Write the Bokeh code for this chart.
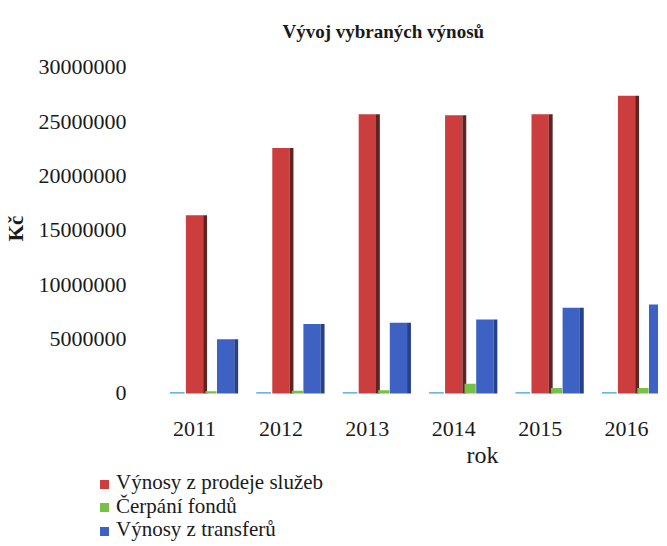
from bokeh.plotting import figure
from bokeh.layouts import column
from bokeh.models import (Range1d, FixedTicker, Title, ColumnDataSource, Div)
from bokeh.transform import dodge
from bokeh.embed import file_html
from bokeh.resources import INLINE

years = [2011, 2012, 2013, 2014, 2015, 2016]
year_labels = ["2011", "2012", "2013", "2014", "2015", "2016"]
prodej_sluzeb = [16400000, 22600000, 25700000, 25600000, 25700000, 27400000]
cerpani_fondu = [200000, 250000, 300000, 900000, 500000, 500000]
transfery = [5000000, 6400000, 6500000, 6800000, 7900000, 8200000]
ostatni = [120000, 120000, 120000, 120000, 120000, 120000]
y_ticks = [0, 5000000, 10000000, 15000000, 20000000, 25000000, 30000000]
y_tick_labels = ["0", "5000000", "10000000", "15000000", "20000000", "25000000", "30000000"]
series_names = ["Výnosy z prodeje služeb", "Čerpání fondů", "Výnosy z transferů"]

FONT = "Liberation Serif"
RED, RED_SIDE = "#cc3d3d", "#5e2424"
GREEN = "#78c048"
BLUE, BLUE_SIDE = "#3d62c4", "#27408a"
CYAN = "#3b9fd8"
series_colors = [RED, GREEN, BLUE]

p = figure(frame_width=509, frame_height=338, output_backend="svg", toolbar_location=None,
           x_range=Range1d(2010.479, 2016.37), y_range=Range1d(-370000, 30736000),
           min_border_left=142, min_border_right=0, min_border_top=59, min_border_bottom=40)
p.outline_line_color = None
p.xgrid.visible = False
p.ygrid.visible = False

src = ColumnDataSource(dict(year=years, prodej=prodej_sluzeb, fondy=cerpani_fondu,
                            transfery=transfery, ostatni=ostatni))

side = 0.045
p.vbar(x=dodge("year", -0.2, range=p.x_range), top="ostatni", width=0.17, source=src,
       fill_color=CYAN, line_color=None)
p.vbar(x=dodge("year", 0.0, range=p.x_range), top="prodej", width=0.2, source=src,
       fill_color=RED, line_color=None)
p.vbar(x=dodge("year", 0.1 + side / 2, range=p.x_range), top="prodej", width=side, source=src,
       fill_color=RED_SIDE, line_color=None)
p.vbar(x=dodge("year", 0.19, range=p.x_range), top="fondy", width=0.13, source=src,
       fill_color=GREEN, line_color=None)
p.vbar(x=dodge("year", 0.36, range=p.x_range), top="transfery", width=0.2, source=src,
       fill_color=BLUE, line_color=None)
p.vbar(x=dodge("year", 0.46 + side / 2, range=p.x_range), top="transfery", width=side, source=src,
       fill_color=BLUE_SIDE, line_color=None)

p.xaxis.ticker = FixedTicker(ticks=years)
p.xaxis.major_label_overrides = {y: l for y, l in zip(years, year_labels)}
p.yaxis.ticker = FixedTicker(ticks=y_ticks)
p.yaxis.major_label_overrides = {t: l for t, l in zip(y_ticks, y_tick_labels)}
for ax in (p.xaxis[0], p.yaxis[0]):
    ax.axis_line_color = None
    ax.major_tick_line_color = None
    ax.minor_tick_line_color = None
    ax.major_label_text_font = FONT
    ax.major_label_text_font_size = "22px"
    ax.major_label_text_color = "#1a1a1a"
p.xaxis.major_label_standoff = 18
p.yaxis.major_label_standoff = 17
p.yaxis.axis_label = "Kč"
p.yaxis.axis_label_text_font = FONT
p.yaxis.axis_label_text_font_size = "21px"
p.yaxis.axis_label_text_font_style = "bold"
p.yaxis.axis_label_text_color = "#1a1a1a"
p.yaxis.axis_label_standoff = 8

t = Title(text="Vývoj vybraných výnosů", align="left", offset=133, standoff=36,
          text_font=FONT, text_font_size="19px", text_font_style="bold", text_color="#1a1a1a")
p.add_layout(t, "above")

rok = Title(text="rok", align="left", offset=317, standoff=2,
            text_font=FONT, text_font_size="24px", text_font_style="normal", text_color="#1a1a1a")
p.add_layout(rok, "below")

# legend block below the chart (serif font set on every element)
row_style = ("white-space:nowrap;font-family:&quot;Liberation Serif&quot;, serif !important;"
             "font-size:21px;line-height:23.5px;color:#1a1a1a;")
rows = "".join(
    f'<div style="{row_style}">'
    f'<span style="display:inline-block;width:9px;height:9px;background:{c};'
    f'margin-right:7px;vertical-align:middle;"></span>'
    f'<span style="font-family:&quot;Liberation Serif&quot;, serif !important;">{name}</span></div>'
    for name, c in zip(series_names, series_colors)
)
legend_div = Div(text=f'<div style="margin-left:100px;margin-top:3px;">{rows}</div>',
                 width=651, height=74, margin=0,
                 styles={"font-family": "'Liberation Serif', serif", "font-size": "21px"})

layout = column(p, legend_div, spacing=0)
open("out.html", "w").write(file_html(layout, INLINE))
